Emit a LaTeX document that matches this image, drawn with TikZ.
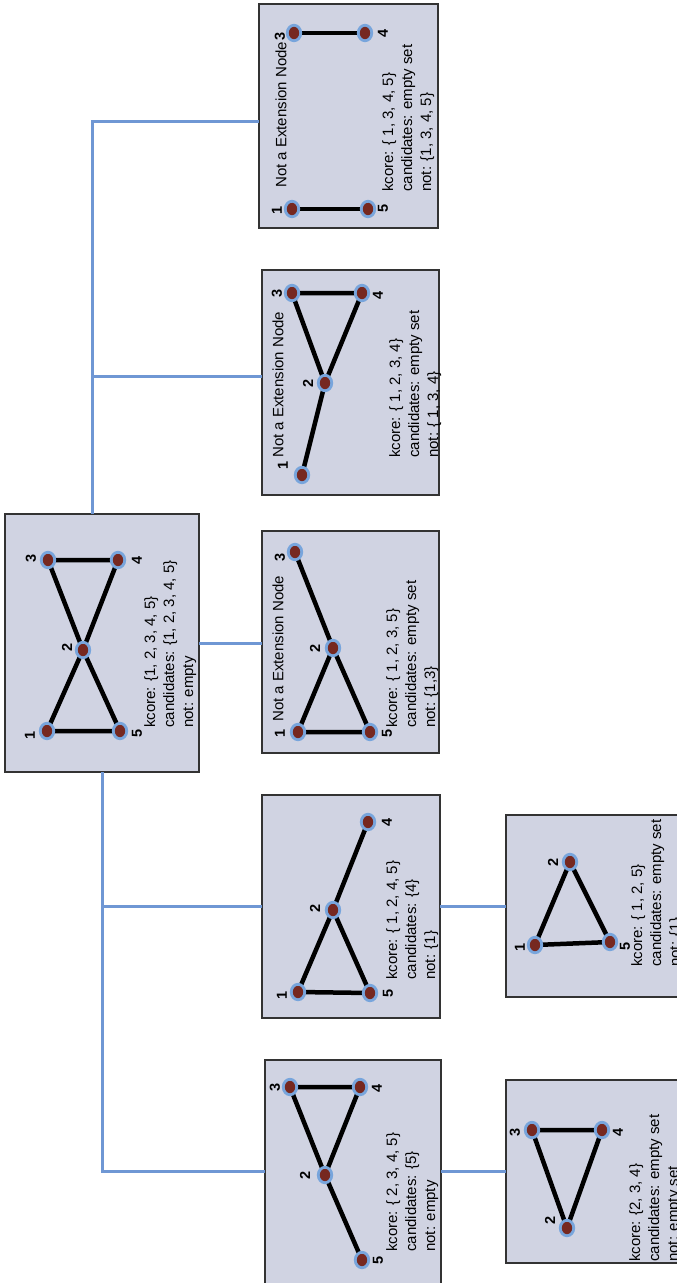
\documentclass[tikz,border=0pt]{standalone}
\usepackage{fontspec}
\setmainfont{Liberation Sans}
\usetikzlibrary{shapes.geometric}
\pgfdeclarelayer{bg}
\pgfdeclarelayer{edges}
\pgfsetlayers{bg,edges,main}
\definecolor{boxfill}{RGB}{208,211,226}
\definecolor{connblue}{RGB}{111,151,212}
\definecolor{vfill}{RGB}{118,40,32}
\definecolor{vring}{RGB}{120,165,220}
\tikzset{
  panel/.style={draw=black!80, line width=1.3pt, fill=boxfill, anchor=north west, inner sep=0pt, outer sep=0pt},
  conn/.style={draw=connblue, line width=3pt},
  vtx/.style={ellipse, fill=vfill, draw=vring, line width=2.8pt, minimum width=13.5pt, minimum height=15.5pt, inner sep=0pt},
  gedge/.style={draw=black, line width=4.5pt},
  lbl/.style={font=\bfseries\fontsize{14.5}{14.5}\selectfont, rotate=90, inner sep=0pt},
  info/.style={font=\fontsize{15}{19}\selectfont, rotate=90, align=left, anchor=north west, inner sep=0pt},
  ttl/.style={font=\fontsize{15}{19}\selectfont, rotate=90, anchor=west, inner sep=0pt},
}
\begin{document}
\begin{tikzpicture}[x=1pt, y=-1pt]
\useasboundingbox (0,0) rectangle (677,1283);
\clip (0,0) rectangle (677,1283);
% panels
\begin{pgfonlayer}{bg}
\node[panel, minimum width=194pt, minimum height=258pt] (B0) at (5,514) {};
\node[panel, minimum width=179pt, minimum height=224pt] (B1) at (259,4) {};
\node[panel, minimum width=177pt, minimum height=225pt] (B2) at (262,270) {};
\node[panel, minimum width=177pt, minimum height=222pt] (B3) at (262,531) {};
\node[panel, minimum width=178pt, minimum height=223pt] (B4) at (262,795) {};
\node[panel, minimum width=176pt, minimum height=250pt] (B5) at (265,1060) {};
\node[panel, minimum width=200pt, minimum height=182pt] (B6) at (506,815) {};
\node[panel, minimum width=200pt, minimum height=183pt] (B7) at (506,1080) {};
\end{pgfonlayer}
% connectors
\coordinate (j1) at (92,121);
\coordinate (j2) at (92,376);
\coordinate (j3) at (102,906);
\coordinate (j4) at (102,1171);
\draw[conn] (B0.north -| j1) -- (j1) -- (j1 -| B1.west);
\draw[conn] (j2) -- (j2 -| B2.west);
\draw[conn] (B0.east) -- (B0.east -| B3.west);
\draw[conn] (B0.south -| j3) -- (j4) -- (j4 -| B5.west);
\draw[conn] (j3) -- (j3 -| B4.west);
\draw[conn] (j3 -| B4.east) -- (j3 -| B6.west);
\draw[conn] (j4 -| B5.east) -- (j4 -| B7.west);
% main panel
\node[vtx] (m1) at (47,731) {};
\node[vtx] (m2) at (83,650) {};
\node[vtx] (m3) at (48,560) {};
\node[vtx] (m4) at (118,560) {};
\node[vtx] (m5) at (120,731) {};
\node[lbl] (m1l) at (30,735) {1};
\node[lbl] (m2l) at (67,647) {2};
\node[lbl] (m3l) at (31,558) {3};
\node[lbl] (m4l) at (137,560) {4};
\node[lbl] (m5l) at (137,733) {5};
\begin{pgfonlayer}{edges}
\draw[gedge] (m1.center) -- (m5.center) -- (m2.center) -- (m1.center);
\draw[gedge] (m3.center) -- (m4.center) -- (m2.center) -- (m3.center);
\end{pgfonlayer}
\node[info] (m0t) at (144,728) {kcore: \{1, 2, 3, 4, 5\}\\candidates: \{1, 2, 3, 4, 5\}\\not: empty};
% panel 1
\node[vtx] (a1) at (292,209) {};
\node[vtx] (a5) at (368,209) {};
\node[vtx] (a3) at (294,33) {};
\node[vtx] (a4) at (365,33) {};
\node[lbl] (a1l) at (277,210) {1};
\node[lbl] (a5l) at (383,208) {5};
\node[lbl] (a3l) at (280,36) {3};
\node[lbl] (a4l) at (383,33) {4};
\begin{pgfonlayer}{edges}
\draw[gedge] (a1.center) -- (a5.center);
\draw[gedge] (a3.center) -- (a4.center);
\end{pgfonlayer}
\node[ttl] (a0h) at (281,188) {Not a Extension Node};
\node[info] (a0t) at (382,192) {kcore: \{ 1, 3, 4, 5\}\\candidates: empty set\\not: \{1, 3, 4, 5\}};
% panel 2
\node[vtx] (b1) at (302,475) {};
\node[vtx] (b2) at (325,383) {};
\node[vtx] (b3) at (292,293) {};
\node[vtx] (b4) at (362,293) {};
\node[lbl] (b1l) at (283,465) {1};
\node[lbl] (b2l) at (308,383) {2};
\node[lbl] (b3l) at (277,293) {3};
\node[lbl] (b4l) at (378,295) {4};
\begin{pgfonlayer}{edges}
\draw[gedge] (b1.center) -- (b2.center) -- (b3.center) -- (b4.center) -- (b2.center);
\end{pgfonlayer}
\node[ttl] (b0h) at (278,458) {Not a Extension Node};
\node[info] (b0t) at (389,458) {kcore: \{ 1, 2, 3, 4\}\\candidates: empty set\\not: \{ 1, 3, 4\}};
% panel 3
\node[vtx] (c1) at (298,732) {};
\node[vtx] (c2) at (333,648) {};
\node[vtx] (c3) at (295,552) {};
\node[vtx] (c5) at (370,732) {};
\node[lbl] (c1l) at (280,733) {1};
\node[lbl] (c2l) at (315,648) {2};
\node[lbl] (c3l) at (280,557) {3};
\node[lbl] (c5l) at (387,733) {5};
\begin{pgfonlayer}{edges}
\draw[gedge] (c3.center) -- (c2.center) -- (c1.center) -- (c5.center) -- (c2.center);
\end{pgfonlayer}
\node[ttl] (c0h) at (278,722) {Not a Extension Node};
\node[info] (c0t) at (386,728) {kcore: \{ 1, 2, 3, 5\}\\candidates: empty set\\not: \{1,3\}};
% panel 4
\node[vtx] (d1) at (298,992) {};
\node[vtx] (d2) at (333,910) {};
\node[vtx] (d4) at (368,822) {};
\node[vtx] (d5) at (370,993) {};
\node[lbl] (d1l) at (282,995) {1};
\node[lbl] (d2l) at (315,908) {2};
\node[lbl] (d4l) at (387,822) {4};
\node[lbl] (d5l) at (388,993) {5};
\begin{pgfonlayer}{edges}
\draw[gedge] (d4.center) -- (d2.center) -- (d1.center) -- (d5.center) -- (d2.center);
\end{pgfonlayer}
\node[info] (d0t) at (386,980) {kcore: \{ 1, 2, 4, 5\}\\candidates: \{4\}\\not: \{1\}};
% panel 5
\node[vtx] (e3) at (290,1087) {};
\node[vtx] (e4) at (360,1087) {};
\node[vtx] (e2) at (325,1175) {};
\node[vtx] (e5) at (362,1260) {};
\node[lbl] (e3l) at (275,1087) {3};
\node[lbl] (e4l) at (377,1088) {4};
\node[lbl] (e2l) at (305,1175) {2};
\node[lbl] (e5l) at (378,1260) {5};
\begin{pgfonlayer}{edges}
\draw[gedge] (e5.center) -- (e2.center) -- (e3.center) -- (e4.center) -- (e2.center);
\end{pgfonlayer}
\node[info] (e0t) at (386,1252) {kcore: \{ 2, 3, 4, 5\}\\candidates: \{5\}\\not: empty};
% panel 6
\node[vtx] (f1) at (535,945) {};
\node[vtx] (f2) at (570,862) {};
\node[vtx] (f5) at (610,942) {};
\node[lbl] (f1l) at (520,947) {1};
\node[lbl] (f2l) at (553,862) {2};
\node[lbl] (f5l) at (625,946) {5};
\begin{pgfonlayer}{edges}
\draw[gedge] (f1.center) -- (f2.center) -- (f5.center) -- (f1.center);
\end{pgfonlayer}
\node[info] (f0t) at (631,967) {kcore: \{ 1, 2, 5\}\\candidates: empty set\\not: \{1\}};
% panel 7
\node[vtx] (g3) at (532,1130) {};
\node[vtx] (g4) at (602,1130) {};
\node[vtx] (g2) at (567,1228) {};
\node[lbl] (g3l) at (515,1132) {3};
\node[lbl] (g4l) at (618,1132) {4};
\node[lbl] (g2l) at (550,1220) {2};
\begin{pgfonlayer}{edges}
\draw[gedge] (g3.center) -- (g4.center) -- (g2.center) -- (g3.center);
\end{pgfonlayer}
\node[info] (g0t) at (629,1262) {kcore: \{2, 3, 4\}\\candidates: empty set\\not: empty set};
\end{tikzpicture}
\end{document}
